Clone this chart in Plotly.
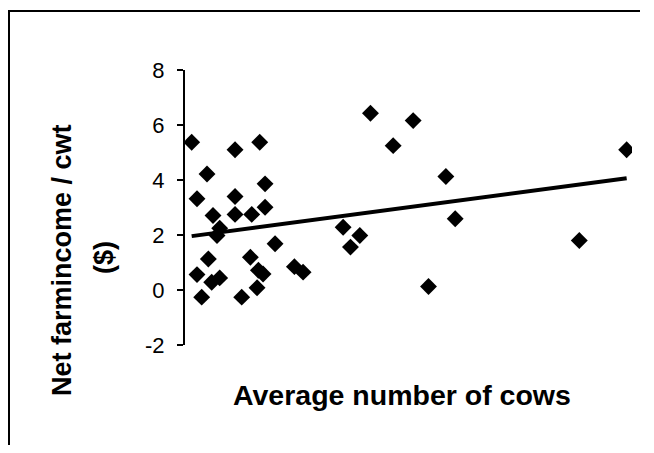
import numpy as np
import plotly.graph_objects as go

# ---- data ----
cows = [10, 75, 112, 33, 120, 18, 75, 120, 42, 75, 100, 52, 48, 135, 35, 98, 18, 52, 40,
        110, 117, 108, 85, 25, 164, 177, 278, 342, 312, 391, 405, 237, 262, 248, 365, 591, 662]
income = [5.37, 5.10, 5.37, 4.22, 3.86, 3.32, 3.40, 3.01, 2.71, 2.75, 2.75, 2.25, 1.98, 1.68,
          1.13, 1.19, 0.56, 0.44, 0.28, 0.72, 0.58, 0.08, -0.26, -0.26, 0.85, 0.65, 6.43, 6.16,
          5.25, 4.13, 2.59, 2.28, 1.98, 1.56, 0.13, 1.80, 5.10]
y_ticks = [-2, 0, 2, 4, 6, 8]
y_tick_labels = ["-2", "0", "2", "4", "6", "8"]
x_title = "Average number of cows"
y_title_1 = "Net farmincome / cwt"
y_title_2 = "($)"

# linear trend line (least squares) over the data
slope, intercept = np.polyfit(cows, income, 1)
trend_x = [min(cows), max(cows)]
trend_y = [slope * v + intercept for v in trend_x]

# ---- layout geometry (screen pixels; the page body has an 8px margin) ----
OFF = 8
W, H = 654 - 2 * OFF, 453 - 2 * OFF
L, R, T, B = 185 - OFF, 632 - OFF, 70 - OFF, 345 - OFF
def xp(px):  # screen px -> paper
    return (px - OFF - L) / (R - L)
def yp(py):
    return (B - (py - OFF)) / (B - T)

FONT = "Liberation Sans, Arial, sans-serif"

fig = go.Figure()
fig.add_trace(go.Scatter(
    x=cows, y=income, mode="markers",
    marker=dict(symbol="diamond", size=13, color="black", line=dict(width=0)),
    showlegend=False, hoverinfo="x+y"))
fig.add_trace(go.Scatter(
    x=trend_x, y=trend_y, mode="lines",
    line=dict(color="black", width=4),
    showlegend=False, hoverinfo="skip"))

fig.update_layout(
    width=W, height=H,
    margin=dict(l=L, r=W - R, t=T, b=H - B, pad=0),
    paper_bgcolor="white", plot_bgcolor="white",
    font=dict(family=FONT, color="black"),
    xaxis=dict(range=[0, 670], showline=False, showticklabels=False, showgrid=False,
               zeroline=False, ticks=""),
    yaxis=dict(range=[-2, 8], tickvals=y_ticks, ticktext=y_tick_labels, showline=True,
               linecolor="black", linewidth=2, ticks="outside", ticklen=6, tickwidth=2,
               tickcolor="black", showgrid=False, zeroline=False,
               tickfont=dict(size=22, family=FONT), ticklabelstandoff=8),
    annotations=[
        dict(text=f"<b>{x_title}</b>", x=xp(402), y=yp(395), xref="paper", yref="paper",
             showarrow=False, xanchor="center", yanchor="middle",
             font=dict(size=28.5, family=FONT)),
        dict(text=f"<b>{y_title_1}</b>", x=xp(62), y=yp(260), xref="paper", yref="paper",
             showarrow=False, xanchor="center", yanchor="middle", textangle=-90,
             font=dict(size=27, family=FONT)),
        dict(text=f"<b>{y_title_2}</b>", x=xp(104), y=yp(258), xref="paper", yref="paper",
             showarrow=False, xanchor="center", yanchor="middle", textangle=-90,
             font=dict(size=27, family=FONT)),
    ],
    shapes=[
        dict(type="line", xref="paper", yref="paper", x0=xp(9), x1=xp(640), y0=yp(11), y1=yp(11),
             line=dict(color="black", width=2)),
        dict(type="line", xref="paper", yref="paper", x0=xp(9), x1=xp(9), y0=yp(10), y1=yp(445),
             line=dict(color="black", width=2)),
    ],
)

fig.write_html("out.html", config={"displayModeBar": False})
